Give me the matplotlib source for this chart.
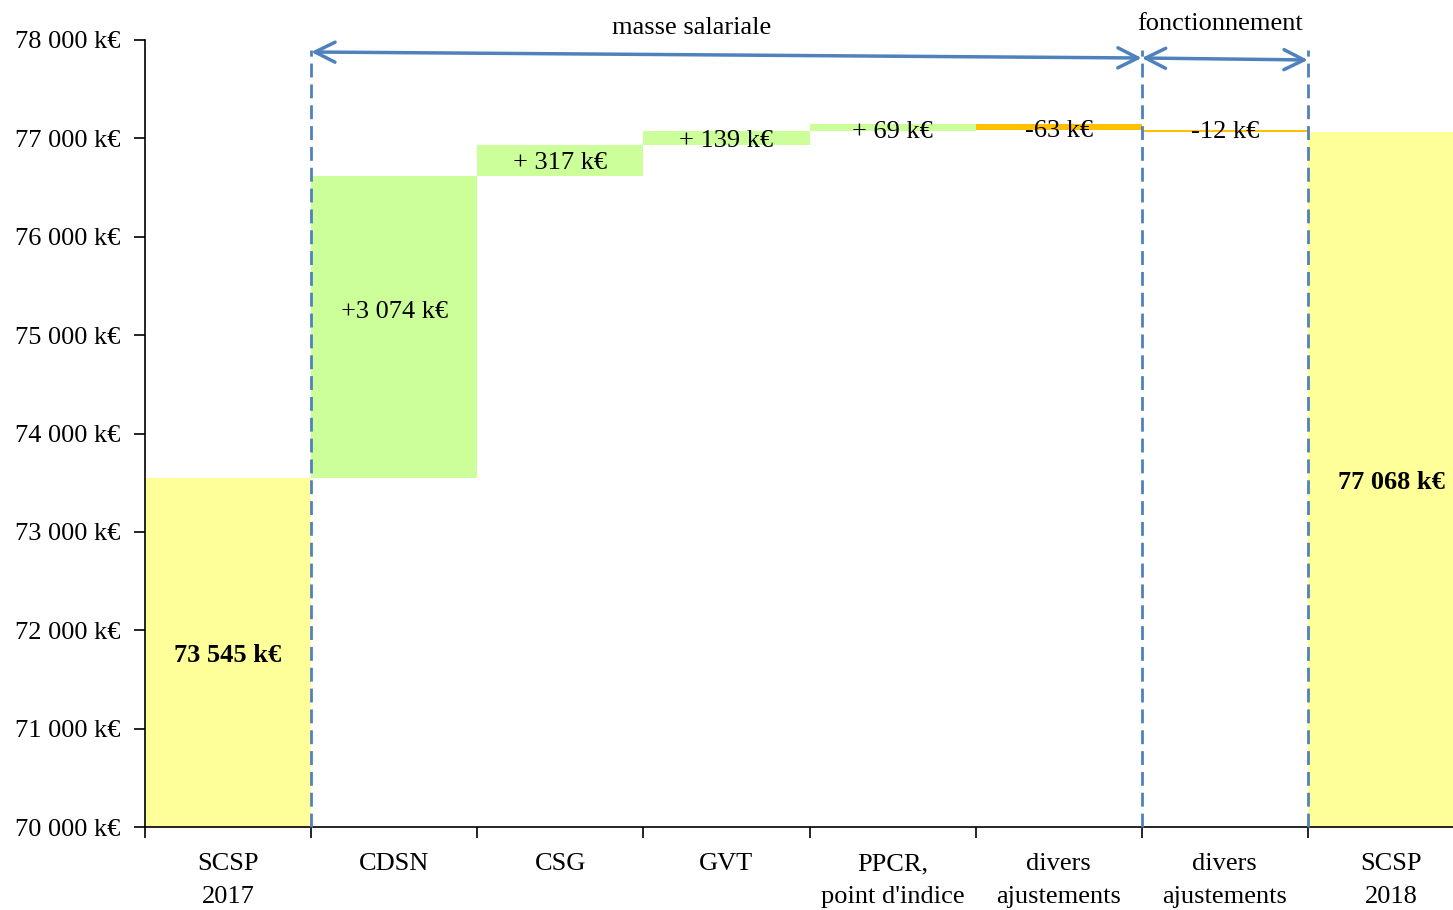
import matplotlib
matplotlib.use("Agg")
import matplotlib.pyplot as plt
from matplotlib.ticker import FixedLocator

plt.rcParams['font.family'] = ['Liberation Serif', 'DejaVu Serif']

categories = ["SCSP\n2017", "CDSN", "CSG", "GVT", "PPCR,\npoint d'indice",
              "divers\najustements", "divers\najustements", "SCSP\n2018"]
start_value = 73545
deltas = [3074, 317, 139, 69, -63, -12]
end_value = 77068
delta_labels = ["+3 074 k€", "+ 317 k€", "+ 139 k€", "+ 69 k€", "-63 k€", "-12 k€"]
total_labels = ["73 545 k€", "77 068 k€"]
yticks = [70000, 71000, 72000, 73000, 74000, 75000, 76000, 77000, 78000]
ytick_labels = ["70 000 k€", "71 000 k€", "72 000 k€", "73 000 k€", "74 000 k€",
                "75 000 k€", "76 000 k€", "77 000 k€", "78 000 k€"]

yellow = "#FFFF99"
green = "#CCFF99"
orange = "#FFC000"
blue = "#4F81BD"

fig = plt.figure(figsize=(14.53, 9.10), dpi=100)
ax = fig.add_axes([145/1453, 83/910, 1329/1453, 787/910])
ax.set_xlim(0, 8)
ax.set_ylim(70000, 78000)

# totals
ax.bar(0, start_value, width=1.0, align='edge', color=yellow, zorder=1)
ax.bar(7, end_value, width=1.0, align='edge', color=yellow, zorder=1)

level = start_value
for i, d in enumerate(deltas):
    bottom = level if d >= 0 else level + d
    ax.bar(i + 1, abs(d), bottom=bottom, width=1.0, align='edge',
           color=green if d >= 0 else orange, zorder=1)
    level += d

# labels
fs = 19
ax.text(0.5, 71740, total_labels[0], ha='center', va='center', fontsize=fs, fontweight='bold')
ax.text(7.5, 73500, total_labels[1], ha='center', va='center', fontsize=fs, fontweight='bold')
label_y = [75240, 76745, 76970, 77060, 77080, 77060]
for i, (lab, y) in enumerate(zip(delta_labels, label_y)):
    ax.text(i + 1.5, y, lab, ha='center', va='center', fontsize=fs, zorder=5)

# dashed separators
for x in [1, 6, 7]:
    ax.plot([x, x], [70000, 77900], color=blue, lw=2, ls=(0, (5, 2.5)), zorder=3, clip_on=False)

# arrows
ax.annotate('', xy=(1, 77878), xytext=(6, 77817),
            arrowprops=dict(arrowstyle='<->', color=blue, lw=2.5, mutation_scale=36,
                            shrinkA=0, shrinkB=0), annotation_clip=False)
ax.annotate('', xy=(6, 77817), xytext=(7, 77797),
            arrowprops=dict(arrowstyle='<->', color=blue, lw=2.5, mutation_scale=36,
                            shrinkA=0, shrinkB=0), annotation_clip=False)
ax.text(3.29, 78125, "masse salariale", ha='center', va='center', fontsize=fs, clip_on=False)
ax.text(6.47, 78165, "fonctionnement", ha='center', va='center', fontsize=fs, clip_on=False)

# axes styling
for s in ['top', 'right']:
    ax.spines[s].set_visible(False)
ax.spines['left'].set_linewidth(1.2)
ax.spines['bottom'].set_linewidth(1.2)
ax.set_yticks(yticks)
ax.set_yticklabels(ytick_labels, fontsize=fs)
ax.tick_params(axis='y', direction='out', length=8, width=1.2, pad=10)
ax.xaxis.set_major_locator(FixedLocator(list(range(0, 9))))
ax.set_xticklabels([""] * 9)
ax.xaxis.set_minor_locator(FixedLocator([i + 0.5 for i in range(8)]))
ax.set_xticklabels(categories, minor=True, fontsize=fs, linespacing=1.65)
ax.tick_params(axis='x', which='major', direction='out', length=8, width=1.2)
ax.tick_params(axis='x', which='minor', length=0, pad=19)

fig.savefig("out.png", dpi=100)
